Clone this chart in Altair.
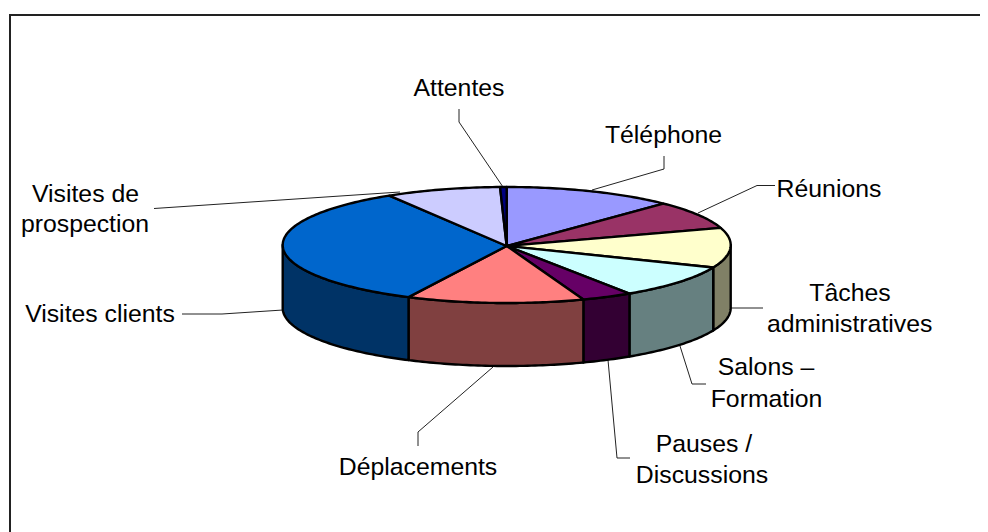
import math
import altair as alt
import pandas as pd

# Slice shares (% of the pie), clockwise from the top
categories = ["Téléphone", "Réunions", "Tâches administratives", "Salons – Formation",
              "Pauses / Discussions", "Déplacements", "Visites clients",
              "Visites de prospection", "Attentes"]
shares = [12.33, 7.89, 11.11, 9.44, 3.67, 12.78, 34.0, 8.31, 0.47]
top_colors = ["#9999FF", "#993366", "#FFFFCC", "#CCFFFF", "#660066",
              "#FF8080", "#0066CC", "#CCCCFF", "#000080"]
side_colors = ["#4D4D80", "#4D1A33", "#808066", "#668080", "#330033",
               "#804040", "#003366", "#666680", "#000040"]

CX, CY, RX, RY, DEPTH = 506.7, 245.0, 224.0, 58.0, 63.0

label_lines = ["Attentes", "Téléphone", "Réunions", "Visites de", "prospection", "Visites clients",
               "Déplacements", "Pauses /", "Discussions", "Salons –", "Formation", "Tâches", "administratives"]
label_x = [459, 663.5, 829, 85.5, 85, 100, 418, 704, 702, 766, 766.5, 850, 849.7]
label_y = [96, 143, 197, 201.5, 232, 322, 475, 451.5, 482.5, 375, 406.5, 301, 332]

leaders = {
    "Attentes": [(459, 109), (459, 122), (503, 187)],
    "Téléphone": [(664, 156), (664, 169), (592, 190)],
    "Réunions": [(775, 185.5), (757, 185.5), (698, 213)],
    "Visites de prospection": [(154, 208.5), (400, 192)],
    "Visites clients": [(182, 314), (222, 314), (283, 310)],
    "Déplacements": [(418, 446), (418, 432), (493, 367)],
    "Pauses / Discussions": [(630, 458), (617, 458), (608, 360)],
    "Salons – Formation": [(706, 384), (692, 384), (680, 346)],
    "Tâches administratives": [(763, 308), (731, 308)],
}
frame_x = [10, 10, 980]
frame_y = [532, 15, 15]

x_scale = alt.Scale(domain=[8, 980], range=[0, 972])
y_scale = alt.Scale(domain=[8, 532], range=[0, 524])
X = alt.X("x:Q", scale=x_scale, axis=None)
Y = alt.Y("y:Q", scale=y_scale, axis=None)


def rim(t0, t1, dy=0.0):
    n = max(2, int(abs(t1 - t0)) + 2)
    pts = []
    for k in range(n):
        t = math.radians(t0 + (t1 - t0) * k / (n - 1))
        pts.append((CX + RX * math.sin(t), CY - RY * math.cos(t) + dy))
    return pts


def polygon(pts, color):
    df = pd.DataFrame({"x": [p[0] for p in pts], "y": [p[1] for p in pts], "i": range(len(pts))})
    return alt.Chart(df).mark_line(interpolate="linear-closed", fill=color, stroke="black",
                                   strokeWidth=2.4, strokeJoin="round").encode(x=X, y=Y, order="i:Q")


walls, tops = [], []
angle = 0.0
for share, top, side in zip(shares, top_colors, side_colors):
    start, end = angle, angle + share * 3.6
    angle = end
    a, b = max(start, 90.0), min(end, 270.0)
    if a < b:
        upper = rim(a, b)
        walls.append(polygon(upper + rim(b, a, DEPTH), side))
    tops.append(polygon([(CX, CY + 1)] + rim(start, end), top))

leader_rows = [{"leader": k, "i": i, "x": p[0], "y": p[1]} for k, pts in leaders.items() for i, p in enumerate(pts)]
leader_layer = alt.Chart(pd.DataFrame(leader_rows)).mark_line(color="#222222", strokeWidth=1).encode(
    x=X, y=Y, detail="leader:N", order="i:Q")

frame_layer = alt.Chart(pd.DataFrame({"x": frame_x, "y": frame_y, "i": range(3)})).mark_line(
    color="#222222", strokeWidth=2).encode(x=X, y=Y, order="i:Q")

text_layer = alt.Chart(pd.DataFrame({"t": label_lines, "x": label_x, "y": label_y})).mark_text(
    font="Liberation Sans", fontSize=24.8, color="black", align="center", baseline="alphabetic"
).encode(x=X, y=Y, text="t:N")

chart = alt.layer(frame_layer, leader_layer, *walls, *tops, text_layer).properties(
    width=972, height=524, padding=0, autosize=alt.AutoSizeParams(type="none"), background="white"
).configure_view(stroke=None)

chart.save("out.html", embed_options={"renderer": "svg", "actions": False})
